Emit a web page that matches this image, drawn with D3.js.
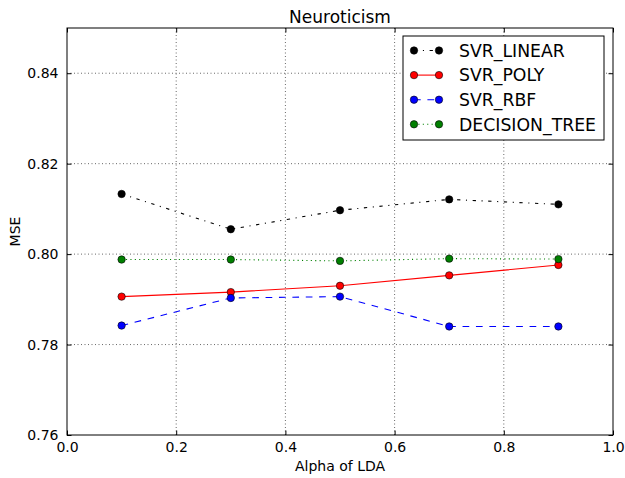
<!DOCTYPE html>
<html>
<head>
<meta charset="utf-8">
<script src="https://cdn.jsdelivr.net/npm/d3@7"></script>
<style>
  body { margin: 0; background: #fff; }
  svg { display: block; font-family: "DejaVu Sans", sans-serif; }
  .grid line { stroke: #000; stroke-width: 0.6; stroke-dasharray: 1,2.5; }
</style>
</head>
<body>
<svg id="chart" width="625" height="478"></svg>
<script>
// data
var alphas = [0.1, 0.3, 0.5, 0.7, 0.9]
var svrLinear = [0.8133, 0.8055, 0.8097, 0.8121, 0.8110]
var svrPoly = [0.7906, 0.7916, 0.7930, 0.7953, 0.7976]
var svrRbf = [0.7842, 0.7903, 0.7906, 0.7840, 0.7840]
var decisionTree = [0.7988, 0.7988, 0.7985, 0.7990, 0.7989]
var xTicks = [0.0, 0.2, 0.4, 0.6, 0.8, 1.0]
var yTicks = [0.76, 0.78, 0.80, 0.82, 0.84]

var series = [
    {name: "SVR_LINEAR", values: svrLinear, color: "#000000", dash: "3.3,5.6,1.1,5.6"},
    {name: "SVR_POLY", values: svrPoly, color: "#ff0000", dash: null},
    {name: "SVR_RBF", values: svrRbf, color: "#0000ff", dash: "6.7,6.7"},
    {name: "DECISION_TREE", values: decisionTree, color: "#008000", dash: "1.1,3.3"}
]

var margin = {left: 67, right: 12, top: 28, bottom: 43}
var screen = {width: 625, height: 478}
var graph = {
    width: screen.width - margin.left - margin.right,
    height: screen.height - margin.top - margin.bottom
}

var svg = d3.select("#chart")
var target = svg.append("g")
    .attr("transform", "translate(" + margin.left + "," + margin.top + ")")

var xScale = d3.scaleLinear().domain([0, 1]).range([0, graph.width])
var yScale = d3.scaleLinear().domain([0.76, 0.85]).range([graph.height, 0])

// grid
var grid = target.append("g").attr("class", "grid")
grid.selectAll(".gx").data(xTicks.slice(1, -1)).enter().append("line")
    .attr("x1", d => xScale(d)).attr("x2", d => xScale(d))
    .attr("y1", 0).attr("y2", graph.height)
grid.selectAll(".gy").data(yTicks.slice(1)).enter().append("line")
    .attr("y1", d => yScale(d)).attr("y2", d => yScale(d))
    .attr("x1", 0).attr("x2", graph.width)

// lines and markers
var line = d3.line()
    .x((d, i) => xScale(alphas[i]))
    .y(d => yScale(d))

series.forEach(function(s) {
    target.append("path")
        .attr("d", line(s.values))
        .attr("fill", "none")
        .attr("stroke", s.color)
        .attr("stroke-width", 1.1)
        .attr("stroke-dasharray", s.dash)
})
series.forEach(function(s) {
    target.selectAll(null)
        .data(s.values)
        .enter()
        .append("circle")
        .attr("cx", (d, i) => xScale(alphas[i]))
        .attr("cy", d => yScale(d))
        .attr("r", 3.7)
        .attr("fill", s.color)
        .attr("stroke", "#000")
        .attr("stroke-width", 0.6)
})

// axes: ticks inside on all four sides
var tickLen = 4.5
var xAxis = d3.axisBottom(xScale).tickValues(xTicks).tickFormat(d3.format(".1f"))
    .tickSizeInner(-tickLen).tickSizeOuter(0).tickPadding(tickLen + 3)
var yAxis = d3.axisLeft(yScale).tickValues(yTicks).tickFormat(d3.format(".2f"))
    .tickSizeInner(-tickLen).tickSizeOuter(0).tickPadding(tickLen + 4)
var xTop = d3.axisTop(xScale).tickValues(xTicks).tickFormat("").tickSizeInner(-tickLen).tickSizeOuter(0)
var yRight = d3.axisRight(yScale).tickValues(yTicks).tickFormat("").tickSizeInner(-tickLen).tickSizeOuter(0)

var gx = target.append("g").attr("transform", "translate(0," + graph.height + ")").call(xAxis)
var gy = target.append("g").call(yAxis)
var gxt = target.append("g").call(xTop)
var gyr = target.append("g").attr("transform", "translate(" + graph.width + ",0)").call(yRight)

;[gx, gy, gxt, gyr].forEach(function(g) {
    g.select(".domain").remove()
    g.selectAll("line").attr("stroke", "#000").attr("stroke-width", 1)
    g.selectAll("text").attr("fill", "#000").style("font-size", "14px")
        .style("font-family", "'DejaVu Sans', sans-serif")
})

// frame
target.append("rect")
    .attr("width", graph.width).attr("height", graph.height)
    .attr("fill", "none").attr("stroke", "#000").attr("stroke-width", 1)

// labels
target.append("text")
    .text("Neuroticism")
    .attr("x", graph.width / 2).attr("y", -5)
    .attr("text-anchor", "middle")
    .style("font-size", "17px")
target.append("text")
    .text("Alpha of LDA")
    .attr("x", graph.width / 2).attr("y", graph.height + 36)
    .attr("text-anchor", "middle")
    .style("font-size", "14px")
svg.append("text")
    .text("MSE")
    .attr("transform", "translate(20," + (margin.top + graph.height / 2) + ") rotate(-90)")
    .attr("text-anchor", "middle")
    .style("font-size", "14px")

// legend
var legend = target.append("g").attr("transform", "translate(" + (403 - margin.left) + "," + (36 - margin.top) + ")")
legend.append("rect")
    .attr("width", 201).attr("height", 104)
    .attr("fill", "#fff").attr("stroke", "#000").attr("stroke-width", 1)
var rows = legend.selectAll(".row").data(series).enter().append("g")
    .attr("transform", (d, i) => "translate(0," + (14.5 + i * 24.6) + ")")
rows.append("line")
    .attr("x1", 11).attr("x2", 36).attr("y1", 0).attr("y2", 0)
    .attr("stroke", d => d.color).attr("stroke-width", 1.1)
    .attr("stroke-dasharray", d => d.dash)
rows.selectAll("circle").data(d => [d, d]).enter().append("circle")
    .attr("cx", (d, i) => i == 0 ? 11 : 36).attr("cy", 0).attr("r", 3.7)
    .attr("fill", d => d.color).attr("stroke", "#000").attr("stroke-width", 0.6)
rows.append("text")
    .text(d => d.name)
    .attr("x", 56).attr("y", 0).attr("dy", "0.36em")
    .style("font-size", "17.3px")
</script>
</body>
</html>
